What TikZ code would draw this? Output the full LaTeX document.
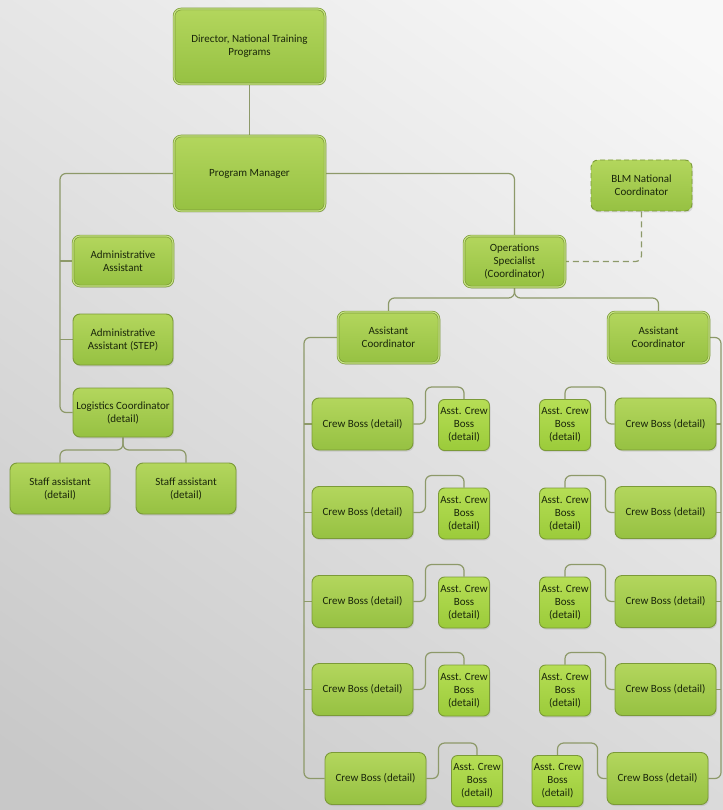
\documentclass[tikz,border=0pt]{standalone}
\usepackage{fontspec}
\setmainfont{Carlito}
\usetikzlibrary{shadows,calc}
\pgfdeclarelayer{bglayer}
\pgfdeclarelayer{connlayer}
\pgfsetlayers{bglayer,connlayer,main}
\definecolor{bgtop}{HTML}{F8F8F8}
\definecolor{bgbot}{HTML}{C8C8C8}
\definecolor{boxtop}{HTML}{B3D65D}
\definecolor{boxbot}{HTML}{96C142}
\definecolor{boxline}{HTML}{7B9A38}
\definecolor{boxlight}{HTML}{C8E486}
\definecolor{acbtop}{HTML}{B6DE55}
\definecolor{acbbot}{HTML}{9BCB3A}
\definecolor{connc}{HTML}{8D9969}
\definecolor{txtc}{HTML}{1A260A}
\tikzset{
  orgbox/.style={rectangle, rounded corners=7pt, draw=boxline, line width=0.9pt,
    top color=boxtop, bottom color=boxbot, align=center, text=txtc,
    font=\fontsize{11}{13}\selectfont, inner sep=1pt,
    drop shadow={opacity=0.22, shadow xshift=1pt, shadow yshift=-1.5pt}},
  framedbox/.style={orgbox, double=boxlight, double distance=1.1pt, line width=0.7pt},
  acbbox/.style={orgbox, top color=acbtop, bottom color=acbbot, rounded corners=6pt,
    minimum width=51pt, minimum height=51pt, inner sep=0pt},
  cbbox/.style={orgbox, minimum width=101pt, minimum height=52pt},
  conn/.style={draw=connc, line width=1.2pt, rounded corners=6pt},
  dashconn/.style={conn, dashed, dash pattern=on 6pt off 4pt},
}
\begin{document}
\begin{tikzpicture}[x=1pt,y=-1pt]
\useasboundingbox (0,0) rectangle (722,810);
\clip (0,0) rectangle (722,810);
\begin{pgfonlayer}{bglayer}
\shade[top color=bgtop, bottom color=bgbot, shading angle=-35] (-100,-100) rectangle (822,910);
\end{pgfonlayer}

% top level
\node[framedbox, minimum width=151pt, minimum height=75pt] (dir) at (249.5,46.5) {Director, National Training\\Programs};
\node[framedbox, minimum width=151pt, minimum height=75pt] (pm) at (249.5,173.5) {Program Manager};
\node[orgbox, dashed, dash pattern=on 5pt off 3pt, minimum width=101pt, minimum height=51pt] (blm) at (641.5,185.5) {BLM National\\Coordinator};
\node[framedbox, minimum width=101pt, minimum height=51pt] (ops) at (514.5,261.5) {Operations\\Specialist\\(Coordinator)};

% left branch
\node[framedbox, minimum width=100pt, minimum height=50pt] (aa) at (123,261) {Administrative\\Assistant};
\node[orgbox, minimum width=100pt, minimum height=51pt] (aas) at (123,339.5) {Administrative\\Assistant (STEP)};
\node[orgbox, minimum width=100pt, minimum height=49pt, inner sep=0pt] (log) at (123,412.5) {Logistics Coordinator\\(detail)};
\node[orgbox, minimum width=100pt, minimum height=51pt] (sa1) at (60,488.5) {Staff assistant\\(detail)};
\node[orgbox, minimum width=100pt, minimum height=51pt] (sa2) at (186,488.5) {Staff assistant\\(detail)};

% assistant coordinators
\node[framedbox, minimum width=101pt, minimum height=51pt] (acl) at (388.5,337.5) {Assistant\\Coordinator};
\node[framedbox, minimum width=101pt, minimum height=51pt] (acr) at (658.5,337.5) {Assistant\\Coordinator};

% left crew bosses
\node[cbbox] (cbl1) at (362.5,424) {Crew Boss (detail)};
\node[cbbox] (cbl2) at (362.5,512.5) {Crew Boss (detail)};
\node[cbbox] (cbl3) at (362.5,601.5) {Crew Boss (detail)};
\node[cbbox] (cbl4) at (362.5,689.5) {Crew Boss (detail)};
\node[cbbox] (cbl5) at (375.5,778.5) {Crew Boss (detail)};
\node[acbbox] (abl1) at (464,425) {Asst. Crew\\Boss\\(detail)};
\node[acbbox] (abl2) at (464,513.5) {Asst. Crew\\Boss\\(detail)};
\node[acbbox] (abl3) at (464,602.5) {Asst. Crew\\Boss\\(detail)};
\node[acbbox] (abl4) at (464,690.5) {Asst. Crew\\Boss\\(detail)};
\node[acbbox] (abl5) at (477,781) {Asst. Crew\\Boss\\(detail)};

% right crew bosses
\node[cbbox] (cbr1) at (665.5,424) {Crew Boss (detail)};
\node[cbbox] (cbr2) at (665.5,512.5) {Crew Boss (detail)};
\node[cbbox] (cbr3) at (665.5,601.5) {Crew Boss (detail)};
\node[cbbox] (cbr4) at (665.5,689.5) {Crew Boss (detail)};
\node[cbbox] (cbr5) at (657.5,778.5) {Crew Boss (detail)};
\node[acbbox] (abr1) at (565,425) {Asst. Crew\\Boss\\(detail)};
\node[acbbox] (abr2) at (565,513.5) {Asst. Crew\\Boss\\(detail)};
\node[acbbox] (abr3) at (565,602.5) {Asst. Crew\\Boss\\(detail)};
\node[acbbox] (abr4) at (565,690.5) {Asst. Crew\\Boss\\(detail)};
\node[acbbox] (abr5) at (557.5,781) {Asst. Crew\\Boss\\(detail)};

% trunk coordinates
\coordinate (ltrunk) at (60,0);
\coordinate (logbus) at (0,450);
\coordinate (opsbus) at (0,298);
\coordinate (ltr2) at (304,0);
\coordinate (rtr) at (721,0);

\begin{pgfonlayer}{connlayer}
\draw[conn] (dir.south) -- (pm.north);
\draw[conn] (pm.west) -| (ltrunk |- log.west) -- (log.west);
\draw[conn] (aa.west -| ltrunk) -- (aa.west);
\draw[conn] (aas.west -| ltrunk) -- (aas.west);
\draw[conn] (log.south) -- (log.south |- logbus) -| (sa1.north);
\draw[conn] (log.south) -- (log.south |- logbus) -| (sa2.north);
\draw[conn] (pm.east) -| (ops.north);
\draw[dashconn] (blm.south) |- (ops.east);
\draw[conn] (ops.south) -- (ops.south |- opsbus) -| (acl.north);
\draw[conn] (ops.south) -- (ops.south |- opsbus) -| (acr.north);
% left assistant coordinator trunk
\draw[conn] (acl.west) -| (ltr2 |- cbl5.west) -- (cbl5.west);
\foreach \i in {1,2,3,4}{
  \draw[conn] (cbl\i.west -| ltr2) -- (cbl\i.west);
}
\foreach \i in {1,...,5}{
  \draw[conn] (cbl\i.east) -- ++(12,0) |- ([yshift=12pt]abl\i.north) -- (abl\i.north);
}
% right assistant coordinator trunk
\draw[conn] (acr.east) -| (rtr |- cbr5.east) -- (cbr5.east);
\foreach \i in {1,2,3,4}{
  \draw[conn] (cbr\i.east -| rtr) -- (cbr\i.east);
}
\foreach \i in {1,...,5}{
  \draw[conn] (cbr\i.west) -- ++(-9,0) |- ([yshift=12pt]abr\i.north) -- (abr\i.north);
}
\end{pgfonlayer}
\end{tikzpicture}
\end{document}
